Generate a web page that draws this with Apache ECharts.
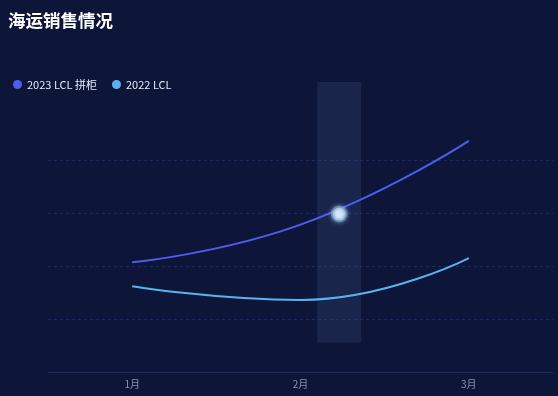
<!DOCTYPE html>
<html>
<head>
<meta charset="utf-8">
<script src="https://cdn.jsdelivr.net/npm/echarts@6/dist/echarts.min.js"></script>
<style>
html,body{margin:0;padding:0;background:#0d1538;}
#chart{width:558px;height:396px;}
</style>
</head>
<body>
<div id="chart"></div>
<script>
const categories = ['1月', '2月', '3月'];
const series2023 = [2.07, 2.78, 4.36];
const series2022 = [1.62, 1.36, 2.15];
const seriesNames = ['2023 LCL 拼柜', '2022 LCL'];
// highlighted position (category index, fractional) and its value
const focusX = [1.23];
const focusValue = [2.98];
// highlight band extent in value units
const bandRange = [[1.23, 0.55, 5.47]];

const font = 'Noto Sans CJK SC';
const chart = echarts.init(document.getElementById('chart'), null, {renderer: 'canvas'});
chart.setOption({
  backgroundColor: '#0d1538',
  animation: false,
  title: {
    text: '海运销售情况',
    left: 3, top: 7,
    textStyle: {color: '#ffffff', fontSize: 17.5, fontWeight: 'bold', fontFamily: font}
  },
  legend: {
    data: seriesNames,
    left: 8, top: 74,
    icon: 'circle', itemWidth: 9, itemHeight: 9, itemGap: 15,
    textStyle: {color: '#e6ebf7', fontSize: 11, fontFamily: font}
  },
  grid: {left: 48, right: 5, top: 107, bottom: 24},
  xAxis: [{
    type: 'category',
    data: categories,
    boundaryGap: true,
    axisLine: {lineStyle: {color: '#1f2a6b'}},
    axisTick: {alignWithLabel: true, length: 4, lineStyle: {color: '#1f2a6b'}},
    axisLabel: {color: '#8a92b2', fontSize: 10, fontFamily: font, margin: 7},
    splitLine: {show: false}
  }, {
    type: 'value', min: -0.5, max: 2.5, show: false
  }],
  yAxis: [{
    type: 'value', min: 0, max: 5, interval: 1,
    axisLine: {show: false}, axisTick: {show: false}, axisLabel: {show: false},
    splitLine: {show: true, showMaxLine: false, showMinLine: false,
      lineStyle: {color: '#1c286c', type: [3, 3], width: 1}}
  }, {
    type: 'value', min: 0, max: 5, show: false
  }],
  series: [{
    type: 'custom',
    xAxisIndex: 1, yAxisIndex: 1,
    silent: true, clip: false, z: 1,
    data: bandRange,
    renderItem: function (params, api) {
      const top = api.coord([api.value(0), api.value(2)]);
      const bot = api.coord([api.value(0), api.value(1)]);
      const w = 44;
      return {
        type: 'rect',
        shape: {x: top[0] - w / 2, y: top[1], width: w, height: bot[1] - top[1]},
        style: {fill: 'rgba(60,80,130,0.28)'}
      };
    }
  }, {
    name: seriesNames[0],
    type: 'line', smooth: true, showSymbol: false, z: 3,
    data: series2023,
    itemStyle: {color: '#4f5cf0'},
    lineStyle: {color: '#4f5cf0', width: 2}
  }, {
    name: seriesNames[1],
    type: 'line', smooth: true, showSymbol: false, z: 3,
    data: series2022,
    itemStyle: {color: '#5ab2f0'},
    lineStyle: {color: '#5ab2f0', width: 2}
  }, {
    type: 'scatter',
    xAxisIndex: 1, yAxisIndex: 1, z: 5, silent: true,
    data: focusX.map((x, i) => [x, focusValue[i]]),
    symbolSize: 13,
    itemStyle: {color: '#ffffff', borderColor: 'rgba(140,175,205,0.6)', borderWidth: 4,
      shadowBlur: 5, shadowColor: 'rgba(140,200,255,0.9)'}
  }]
});
</script>
</body>
</html>
